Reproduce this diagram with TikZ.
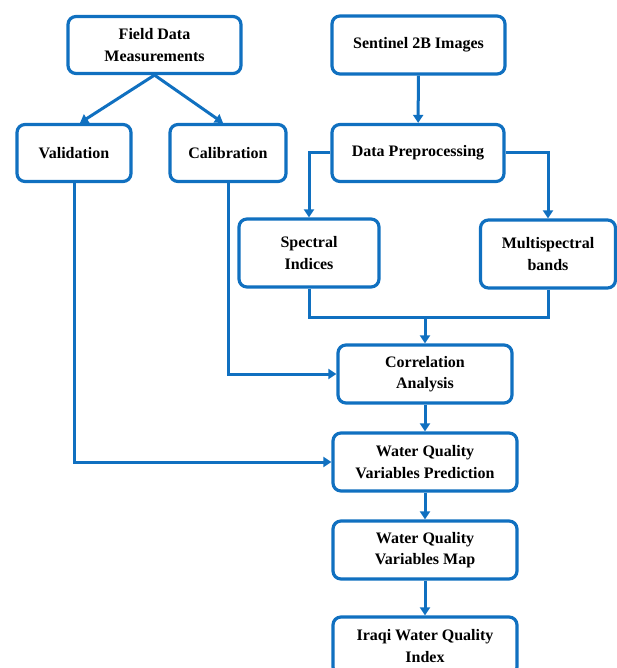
\documentclass[tikz,border=0pt]{standalone}
\usepackage{fontspec}
\setmainfont{Liberation Serif}
\usetikzlibrary{arrows.meta,calc}
\definecolor{flowblue}{RGB}{16,112,192}
\begin{document}
\begin{tikzpicture}[x=1pt,y=-1pt,
  box/.style={draw=flowblue,line width=3.2pt,rounded corners=8pt,fill=white,
    inner sep=0pt,align=center,font=\fontsize{16}{21.5}\selectfont\bfseries},
  conn/.style={draw=flowblue,line width=3pt,-{Triangle[length=8pt,width=10pt]}},
  link/.style={draw=flowblue,line width=3pt}]
\useasboundingbox (0,0) rectangle (617,668);
\begin{scope}
\clip (0,0) rectangle (617,668);
\node[box,minimum width=173pt,minimum height=57pt] (field) at (154.5,45) {Field Data\\Measurements};
\node[box,minimum width=114pt,minimum height=57pt] (val) at (74,153) {Validation};
\node[box,minimum width=116pt,minimum height=57pt] (cal) at (228,153) {Calibration};
\node[box,minimum width=173pt,minimum height=58pt] (sen) at (418.5,45) {Sentinel 2B Images};
\node[box,minimum width=172pt,minimum height=57pt] (pre) at (418,153) {Data Preprocessing};
\node[box,minimum width=140pt,minimum height=68pt] (spec) at (309,253) {Spectral\\Indices};
\node[box,minimum width=135pt,minimum height=68pt] (multi) at (548,254) {Multispectral\\bands};
\node[box,minimum width=174pt,minimum height=58pt] (corr) at (425,374) {Correlation\\Analysis};
\node[box,minimum width=184pt,minimum height=58pt] (pred) at (425,462) {Water Quality\\Variables Prediction};
\node[box,minimum width=184pt,minimum height=58pt] (map) at (425,550) {Water Quality\\Variables Map};
\node[box,minimum width=184pt,minimum height=58pt] (iwqi) at (425,646) {Iraqi Water Quality\\Index};
\coordinate (merge) at (425,317);
\draw[conn] (field.south) -- ($(val.north)+(6,0)$);
\draw[conn] (field.south) -- ($(cal.north)+(-5,0)$);
\draw[conn] (sen) -- (pre);
\draw[conn] (pre.west) -| (spec.north);
\draw[conn] (pre.east) -| (multi.north);
\draw[link] (spec.south) |- (merge);
\draw[link] (multi.south) |- (merge);
\draw[conn] (merge) -- (corr.north);
\draw[conn] (cal.south) |- (corr.west);
\draw[conn] (val.south) |- (pred.west);
\draw[conn] (corr) -- (pred);
\draw[conn] (pred) -- (map);
\draw[conn] (map) -- (iwqi);
\end{scope}
\end{tikzpicture}
\end{document}
